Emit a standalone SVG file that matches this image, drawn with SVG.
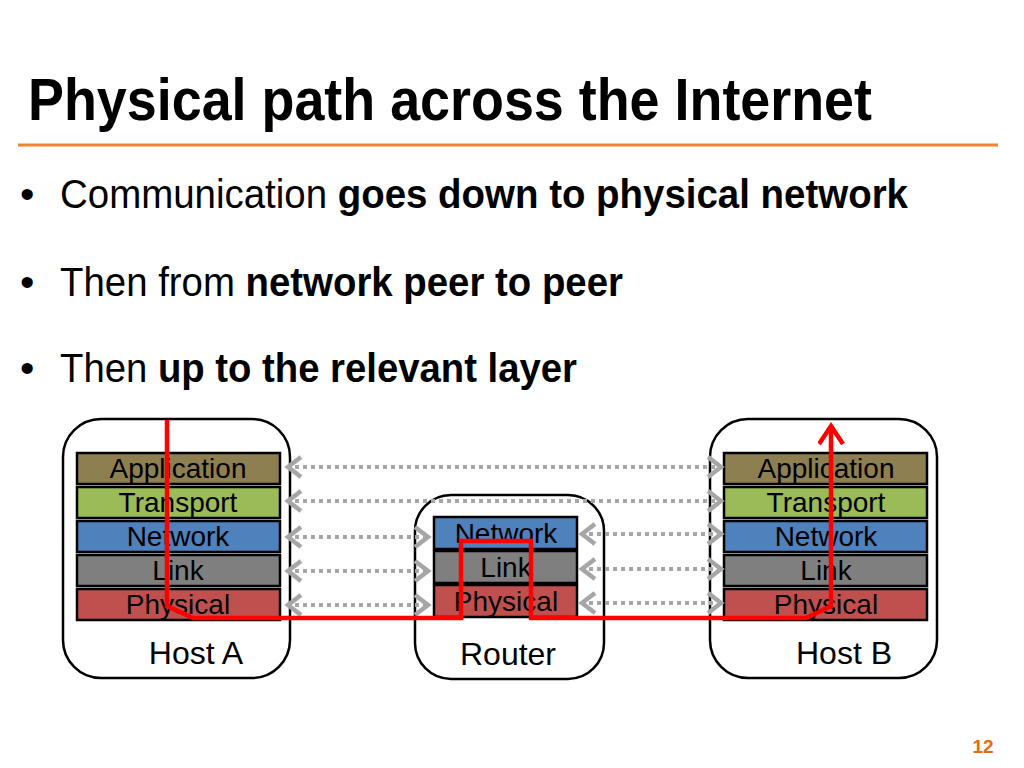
<svg xmlns="http://www.w3.org/2000/svg" width="1024" height="768" viewBox="0 0 1024 768">
<style>
.title{font-family:"Liberation Sans",Arial,sans-serif;font-weight:bold;font-size:60px;fill:#000}
.body{font-family:"Liberation Sans",Arial,sans-serif;font-size:41px;fill:#000}
.b{font-weight:bold}
.box{fill:#fff;stroke:#000;stroke-width:2.5}
.layer{stroke:#000;stroke-width:2.5}
.lt{font-family:"Liberation Sans",Arial,sans-serif;font-size:28px;fill:#000;text-anchor:middle}
.host{font-family:"Liberation Sans",Arial,sans-serif;font-size:32px;fill:#000;text-anchor:middle}
.app{fill:#8E7F50}.tra{fill:#9BBB59}.net{fill:#4F81BD}.lnk{fill:#7F7F7F}.phy{fill:#C0504D}
.dot{stroke:#A6A6A6;stroke-width:4;stroke-dasharray:4 4;fill:none;marker-start:url(#chev);marker-end:url(#chev)}
.red{stroke:#FF0000;stroke-width:4.5;fill:none;stroke-linejoin:miter}
</style>
<defs>
<marker id="chev" markerUnits="userSpaceOnUse" markerWidth="24" markerHeight="26" refX="17" refY="13" orient="auto-start-reverse" viewBox="0 0 24 26">
<path d="M3,3 L16,13 L3,23" fill="none" stroke="#A6A6A6" stroke-width="4.5"/>
</marker>
<marker id="redhead" markerUnits="userSpaceOnUse" markerWidth="30" markerHeight="30" refX="20" refY="13" orient="auto" viewBox="0 0 30 30">
<path d="M2,1 L20,13 L2,25" fill="none" stroke="#FF0000" stroke-width="4.5"/>
</marker>
</defs>
<rect width="1024" height="768" fill="#fff"/>
<text class="title" x="28" y="120" textLength="844" lengthAdjust="spacingAndGlyphs">Physical path across the Internet</text>
<line x1="18" y1="145" x2="998" y2="145" stroke="#F5822F" stroke-width="3"/>
<text class="body" x="20" y="208">•</text>
<text class="body" x="60" y="208" textLength="848" lengthAdjust="spacingAndGlyphs">Communication <tspan class="b">goes down to physical network</tspan></text>
<text class="body" x="20" y="296">•</text>
<text class="body" x="60" y="296" textLength="563" lengthAdjust="spacingAndGlyphs">Then from <tspan class="b">network peer to peer</tspan></text>
<text class="body" x="20" y="382">•</text>
<text class="body" x="60" y="382" textLength="517" lengthAdjust="spacingAndGlyphs">Then <tspan class="b">up to the relevant layer</tspan></text>

<g id="hostA">
<rect class="box" x="63" y="419" width="227" height="259" rx="38"/>
<rect class="layer app" x="77" y="453" width="203" height="31"/>
<rect class="layer tra" x="77" y="487" width="203" height="31"/>
<rect class="layer net" x="77" y="521" width="203" height="31"/>
<rect class="layer lnk" x="77" y="555" width="203" height="31"/>
<rect class="layer phy" x="77" y="589" width="203" height="31"/>
<text class="lt" x="178" y="478">Application</text>
<text class="lt" x="178" y="512">Transport</text>
<text class="lt" x="178" y="546">Network</text>
<text class="lt" x="178" y="580">Link</text>
<text class="lt" x="178" y="614">Physical</text>
<text class="host" x="196" y="664">Host A</text>
</g>

<g id="router">
<rect class="box" x="415" y="495" width="189" height="184" rx="36"/>
<rect class="layer net" x="434" y="517" width="143" height="32"/>
<rect class="layer lnk" x="434" y="551" width="143" height="32"/>
<rect class="layer phy" x="434" y="585" width="143" height="32"/>
<text class="lt" x="506" y="543">Network</text>
<text class="lt" x="506" y="577">Link</text>
<text class="lt" x="506" y="611">Physical</text>
<text class="host" x="508" y="665">Router</text>
</g>

<g id="hostB">
<rect class="box" x="710" y="419" width="227" height="259" rx="38"/>
<rect class="layer app" x="724" y="453" width="203" height="31"/>
<rect class="layer tra" x="724" y="487" width="203" height="31"/>
<rect class="layer net" x="724" y="521" width="203" height="31"/>
<rect class="layer lnk" x="724" y="555" width="203" height="31"/>
<rect class="layer phy" x="724" y="589" width="203" height="31"/>
<text class="lt" x="826" y="478">Application</text>
<text class="lt" x="826" y="512">Transport</text>
<text class="lt" x="826" y="546">Network</text>
<text class="lt" x="826" y="580">Link</text>
<text class="lt" x="826" y="614">Physical</text>
<text class="host" x="844" y="664">Host B</text>
</g>

<g id="connectors">
<line class="dot" x1="287" y1="467" x2="722" y2="467"/>
<line class="dot" x1="287" y1="501" x2="722" y2="501"/>
<line class="dot" x1="287" y1="537" x2="429" y2="537"/>
<line class="dot" x1="287" y1="571" x2="429" y2="571"/>
<line class="dot" x1="287" y1="605" x2="429" y2="605"/>
<line class="dot" x1="581" y1="534" x2="722" y2="534"/>
<line class="dot" x1="581" y1="569" x2="722" y2="569"/>
<line class="dot" x1="581" y1="603" x2="722" y2="603"/>
<path class="red" d="M167,420 L167,606 L193,618 L461,618 L461,541 L531,541 L531,618 L806,618 L831,606 L831,426" marker-end="url(#redhead)"/>
</g>

<text x="983" y="753" font-family="Liberation Sans,Arial,sans-serif" font-weight="bold" font-size="19" fill="#E46C0A" text-anchor="middle">12</text>
</svg>
